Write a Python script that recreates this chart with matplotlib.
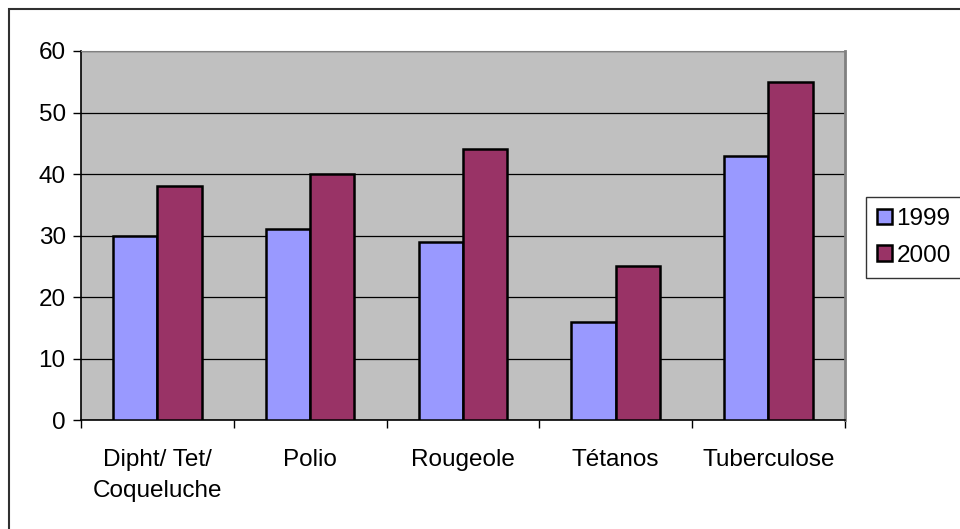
import numpy as np
import matplotlib.pyplot as plt
from matplotlib.patches import Rectangle

# Vaccination coverage by antigen
categories = ["Dipht/ Tet/\nCoqueluche", "Polio", "Rougeole", "Tétanos", "Tuberculose"]
years = ["1999", "2000"]
values_1999 = [30, 31, 29, 16, 43]
values_2000 = [38, 40, 44, 25, 55]

plt.rcParams["font.family"] = ["Liberation Sans", "DejaVu Sans"]
plt.rcParams["font.size"] = 17.5

fig = plt.figure(figsize=(9.6, 5.29), dpi=100)
ax = fig.add_axes([0.0844, 0.206, 0.7956, 0.6976])

# chart border, running off the right and bottom edges
fig.patches.append(Rectangle((8.5 / 960, -0.05), 1.1, 0.05 + 1 - 8.5 / 529,
                             transform=fig.transFigure, fill=False,
                             edgecolor="#303030", linewidth=1.5))

x = np.arange(len(categories))
w = 0.29
ax.bar(x - w / 2, values_1999, w, color="#9999ff", edgecolor="black", linewidth=1.8,
       label=years[0], zorder=3)
ax.bar(x + w / 2, values_2000, w, color="#993366", edgecolor="black", linewidth=1.8,
       label=years[1], zorder=3)

ax.set_facecolor("#c0c0c0")
ax.set_xlim(-0.5, len(categories) - 0.5)
ax.set_ylim(0, 60)
ax.set_yticks(range(0, 61, 10))
ax.yaxis.grid(True, color="black", linewidth=0.9, zorder=1)
ax.set_axisbelow(True)

# category labels centred, ticks between groups
ax.set_xticks(x)
ax.set_xticklabels(categories, linespacing=1.5)
ax.set_xticks(np.arange(-0.5, len(categories), 1), minor=True)
ax.tick_params(axis="x", which="major", length=0, pad=21)
ax.tick_params(axis="x", which="minor", length=6, width=1, color="black")
ax.tick_params(axis="y", length=6, width=1, pad=5)

ax.spines["left"].set_color("black")
ax.spines["bottom"].set_color("black")
ax.spines["left"].set_linewidth(1.2)
ax.spines["bottom"].set_linewidth(1.2)
ax.spines["top"].set_color("#808080")
ax.spines["right"].set_color("#808080")
ax.spines["right"].set_linewidth(2)

leg = ax.legend(loc="center left", bbox_to_anchor=(1.028, 0.495), frameon=True,
                fancybox=False, edgecolor="black", handlelength=0.6, handleheight=0.6,
                handletextpad=0.2, borderpad=0.45, borderaxespad=0, labelspacing=0.6,
                fontsize=17.5)
leg.get_frame().set_linewidth(1)

fig.savefig("out.png", dpi=100)
